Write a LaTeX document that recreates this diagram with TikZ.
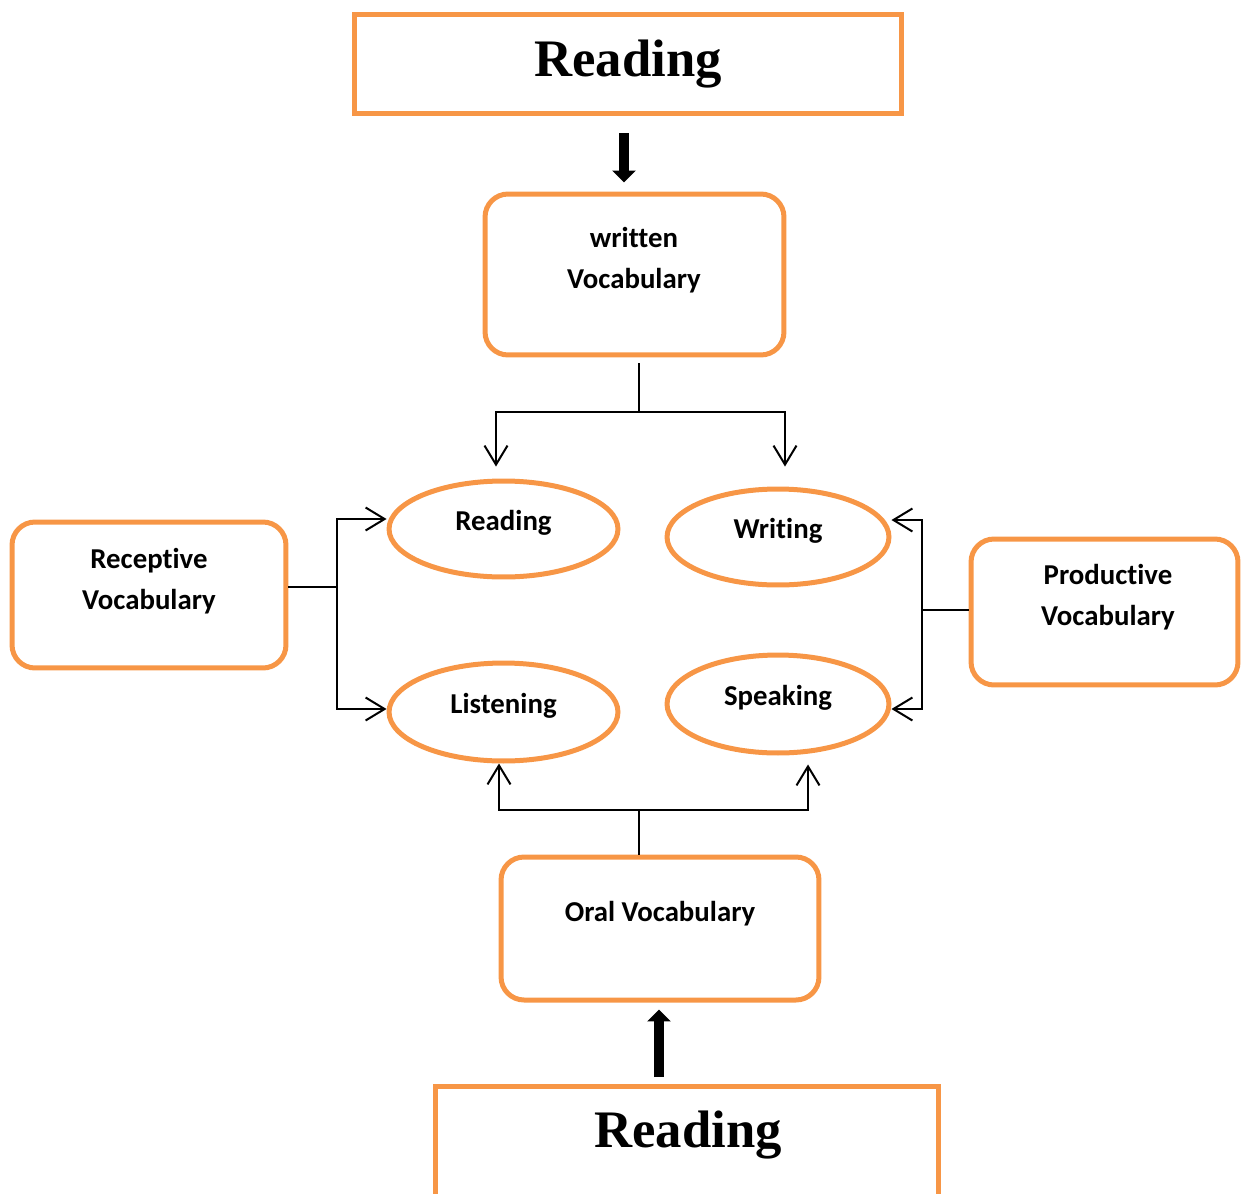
\documentclass[tikz,border=0pt]{standalone}
\usepackage{fontspec}
\setmainfont[Ligatures=NoCommon]{Carlito}
\newfontfamily\titlefont{Liberation Serif}
\usetikzlibrary{arrows.meta,shapes.geometric}
\definecolor{vocaborange}{HTML}{F79646}

\begin{document}
\begin{tikzpicture}[x=0.02cm,y=-0.02cm,
    titlebox/.style={draw=vocaborange,line width=0.1cm,minimum width=10.96cm,minimum height=2cm,inner sep=0pt,
      font=\titlefont\bfseries\fontsize{30}{36}\selectfont},
    vocbox/.style={draw=vocaborange,line width=0.1cm,rounded corners=0.46cm,inner sep=0pt},
    skill/.style={ellipse,draw=vocaborange,line width=0.1cm,inner sep=0pt,text height=11.5pt,text depth=9.5pt,
      font=\bfseries\fontsize{16.4}{23.2}\selectfont},
    lbl/.style={align=center,inner sep=0pt,font=\bfseries\fontsize{16.4}{23.2}\selectfont},
    stem/.style={line width=0.04cm},
    conn/.style={line width=0.04cm,-{Straight Barb[length=0.38cm,width=0.46cm]}},
    bigarrow/.style={line width=0.19cm,-{Triangle[width=0.46cm,length=0.24cm]}}]
    \useasboundingbox (0,0) rectangle (1243,1193);

    % boxes
    \node[titlebox] (rtop) at (628,64) {Reading};
    \node[vocbox,minimum width=5.98cm,minimum height=3.22cm] (wv) at (634.5,274.5) {};
    \node[lbl] (wvtext) at (634,260) {written\\Vocabulary};
    \node[vocbox,minimum width=5.48cm,minimum height=2.92cm] (rv) at (149,595) {};
    \node[lbl] (rvtext) at (149,581) {Receptive\\Vocabulary};
    \node[vocbox,minimum width=5.34cm,minimum height=2.92cm] (pv) at (1104.5,612) {};
    \node[lbl] (pvtext) at (1108,597) {Productive\\Vocabulary};
    \node[vocbox,minimum width=6.36cm,minimum height=2.86cm] (ov) at (660,928.5) {};
    \node[lbl] (ovtext) at (660,914) {Oral Vocabulary};
    \node[titlebox,minimum width=10.08cm,minimum height=3cm,anchor=north] (rbot) at (687,1084) {};
    \node[font=\titlefont\bfseries\fontsize{30}{36}\selectfont] (rbottext) at (688,1135) {Reading};

    % skills
    \node[skill,minimum width=4.58cm,minimum height=1.92cm] (rd) at (503.5,529) {Reading};
    \node[skill,minimum width=4.44cm,minimum height=1.92cm] (wr) at (778,537) {Writing};
    \node[skill,minimum width=4.58cm,minimum height=1.96cm] (ls) at (503.5,712) {Listening};
    \node[skill,minimum width=4.44cm,minimum height=1.96cm] (sp) at (778,704) {Speaking};

    \coordinate (wvj) at (639,412);
    \coordinate (rvj) at (337,587);
    \coordinate (pvj) at (922,610);
    \coordinate (ovj) at (639,810);
    \coordinate (downx) at (624,0);
    \coordinate (upx) at (659,0);

    \draw[bigarrow,shorten <=0.34cm,shorten >=0.18cm] (rtop.south -| downx) -- (wv.north -| downx);
    \draw[bigarrow,shorten <=0.14cm,shorten >=0.14cm] (rbot.north -| upx) -- (ov.south -| upx);

    \draw[stem,shorten <=0.12cm] (wv.south -| wvj) -- (wvj);
    \draw[conn,shorten >=0.24cm] (wvj) -| ([xshift=-0.15cm]rd.north);
    \draw[conn,shorten >=0.4cm] (wvj) -| ([xshift=0.14cm]wr.north);

    \draw[stem] (rv.east |- rvj) -- (rvj);
    \draw[conn] (rvj) |- ([yshift=0.2cm]rd.west);
    \draw[conn] (rvj) |- ([yshift=0.06cm]ls.west);

    \draw[stem] (pv.west |- pvj) -- (pvj);
    \draw[conn] (pvj) |- ([yshift=0.34cm]wr.east);
    \draw[conn] (pvj) |- ([yshift=-0.1cm]sp.east);

    \draw[stem] (ov.north -| ovj) -- (ovj);
    \draw[conn] (ovj) -| ([xshift=-0.09cm]ls.south);
    \draw[conn,shorten >=0.18cm] (ovj) -| ([xshift=0.6cm]sp.south);
\end{tikzpicture}
\end{document}
